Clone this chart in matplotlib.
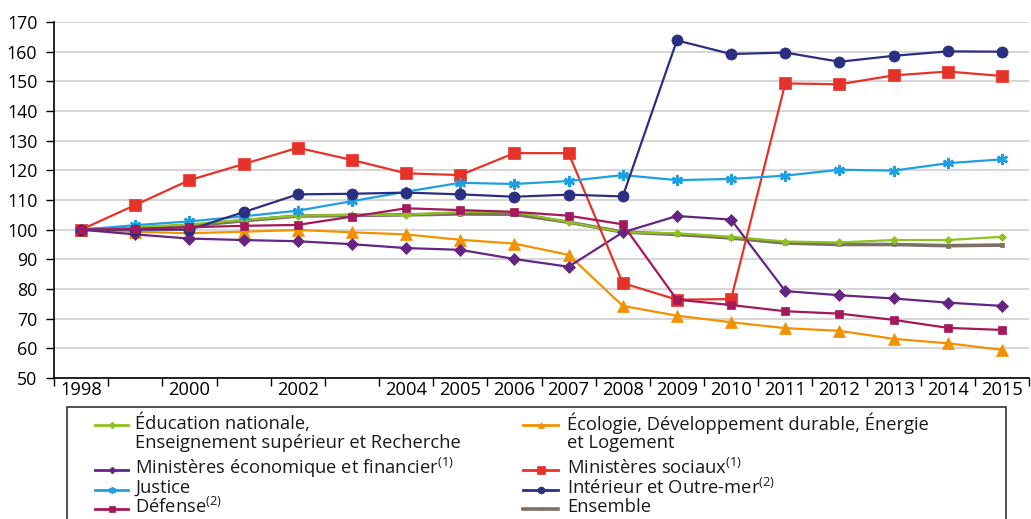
import matplotlib
matplotlib.use("Agg")
import matplotlib.pyplot as plt
from matplotlib.lines import Line2D
from matplotlib.patches import Rectangle
import numpy as np

plt.rcParams['font.family'] = ['Open Sans', 'DejaVu Sans']
plt.rcParams['mathtext.fontset'] = 'custom'
plt.rcParams['mathtext.rm'] = 'Open Sans'

years = list(range(1998, 2016))
tick_labels = ['1998', '', '2000', '', '2002', '', '2004', '2005', '2006', '2007',
               '2008', '2009', '2010', '2011', '2012', '2013', '2014', '2015']

education = [100, 100.8, 101.8, 103.3, 104.7, 105.0, 105.0, 106.0, 106.0, 102.5,
             99.1, 98.8, 97.6, 96.0, 95.7, 96.5, 96.5, 97.6]
ecologie = [100, 99.3, 98.8, 99.3, 99.9, 99.1, 98.4, 96.6, 95.3, 91.5,
            74.3, 71.0, 68.8, 66.8, 65.9, 63.2, 61.7, 59.5]
min_eco = [100, 98.4, 97.0, 96.5, 96.1, 95.1, 93.8, 93.2, 90.1, 87.5,
           99.1, 104.6, 103.4, 79.3, 77.9, 76.8, 75.4, 74.3]
min_sociaux = [100, 108.3, 116.7, 122.1, 127.6, 123.5, 119.0, 118.4, 125.8, 125.8,
               82.0, 76.4, 76.6, 149.3, 149.0, 152.0, 153.3, 151.8]
justice = [100, 101.5, 102.8, 104.5, 106.4, 109.6, 112.8, 115.8, 115.4, 116.4,
           118.4, 116.7, 117.1, 118.2, 120.2, 119.9, 122.4, 123.7]
interieur = [100, 100, 100, 105.9, 111.9, 112.1, 112.5, 111.9, 111.1, 111.8,
             111.2, 163.8, 159.2, 159.7, 156.6, 158.6, 160.1, 160.0]
defense = [100, 100.3, 100.8, 101.3, 101.6, 104.4, 107.2, 106.6, 106.0, 104.7,
           101.8, 76.4, 74.6, 72.5, 71.7, 69.6, 66.9, 66.2]
ensemble = [100, 100.5, 101.3, 103.0, 104.6, 104.8, 105.0, 105.3, 105.2, 102.5,
            99.2, 98.4, 97.2, 95.5, 95.0, 95.0, 94.6, 94.8]

sup = lambda n: r'$^{\mathregular{(%d)}}$' % n
names = {
    'education': 'Éducation nationale,\nEnseignement supérieur et Recherche',
    'ecologie': 'Écologie, Développement durable, Énergie\net Logement',
    'min_eco': 'Ministères économique et financier' + sup(1),
    'min_sociaux': 'Ministères sociaux' + sup(1),
    'justice': 'Justice',
    'interieur': 'Intérieur et Outre-mer' + sup(2),
    'defense': 'Défense' + sup(2),
    'ensemble': 'Ensemble',
}

W, H = 1031, 519
fig = plt.figure(figsize=(W / 100, H / 100), dpi=100)
ax = fig.add_axes([54 / W, 1 - 378 / H, 975 / W, 356 / H])

x = np.arange(len(years))

# key, values, colour, marker, size, linewidth, legend marker size
styles = [
    ('ensemble', ensemble, '#7d7064', 's', 2.5, 2.6, 2.0),
    ('education', education, '#8dc21f', 'D', 4.5, 1.6, 3.5),
    ('ecologie', ecologie, '#f39200', '^', 8, 1.6, 5.0),
    ('min_eco', min_eco, '#662483', 'D', 6, 1.6, 3.5),
    ('min_sociaux', min_sociaux, '#e6332a', 's', 8.5, 1.6, 5.5),
    ('justice', justice, '#1ea0e0', (6, 2, 0), 8, 1.6, 5.0),
    ('interieur', interieur, '#2b2f82', 'o', 8, 1.6, 5.0),
    ('defense', defense, '#a3195b', 's', 5.5, 1.6, 4.5),
]
style_by_key = {}
for z, (key, vals, col, mk, ms, lw, lms) in enumerate(styles):
    mew = 1.8 if mk == (6, 2, 0) else 0.5
    ax.plot(x, vals, color=col, marker=mk, markersize=ms, linewidth=lw,
            markeredgecolor=col, markerfacecolor=col, markeredgewidth=mew,
            zorder=3 + z * 0.1)
    style_by_key[key] = (col, mk, lms, lw, mew)

ax.set_xlim(-0.5, len(years) - 0.5)
ax.set_ylim(50, 170)
ax.set_yticks(np.arange(50, 171, 10))
ax.yaxis.grid(True, color='#d3d3d3', linewidth=1.3)
ax.set_axisbelow(True)
ax.tick_params(axis='y', direction='out', length=6, width=1, pad=6, labelsize=12.8)

ax.set_xticks(np.arange(-0.5, len(years), 1.0))
ax.set_xticklabels([])
ax.set_xticks(x, minor=True)
ax.set_xticklabels(tick_labels, minor=True)
ax.tick_params(axis='x', which='major', direction='out', length=6, width=1)
ax.tick_params(axis='x', which='minor', length=0, pad=2, labelsize=13.2)

for s in ['top', 'right']:
    ax.spines[s].set_visible(False)
for s in ['left', 'bottom']:
    ax.spines[s].set_linewidth(1.2)
    ax.spines[s].set_color('black')

# Legend drawn manually (frame cut off at the bottom edge as in the reference)
fx = lambda px: px / W
fy = lambda py: 1 - py / H
fig.patches.append(Rectangle((fx(67), fy(560)), fx(1006) - fx(67), fy(407) - fy(560),
                             transform=fig.transFigure, fill=False,
                             edgecolor='#333333', linewidth=1.2))

legend_layout = [
    ('education', 95, 128, 135, 423),
    ('min_eco', 95, 128, 135, 468),
    ('justice', 95, 128, 135, 488),
    ('defense', 95, 128, 135, 507),
    ('ecologie', 523, 558, 567, 423),
    ('min_sociaux', 523, 558, 567, 468),
    ('interieur', 523, 558, 567, 488),
    ('ensemble', 523, 558, 567, 507),
]
for key, hx0, hx1, tx, ty in legend_layout:
    col, mk, lms, lw, mew = style_by_key[key]
    fig.lines.append(Line2D([fx(hx0), fx(hx1)], [fy(ty + 1.5)] * 2,
                            transform=fig.transFigure, color=col, linewidth=max(lw, 2.0)))
    fig.lines.append(Line2D([fx((hx0 + hx1) / 2)], [fy(ty + 1.5)],
                            transform=fig.transFigure, color=col, marker=mk,
                            markersize=lms, markeredgecolor=col, markerfacecolor=col,
                            markeredgewidth=min(mew, 1.2), linestyle='none'))
    for i, line in enumerate(names[key].split('\n')):
        fig.text(fx(tx), fy(ty + 19.5 * i), line, fontsize=13.2, va='center',
                 ha='left', color='#1a1a1a')

fig.savefig('out.png', dpi=100)
